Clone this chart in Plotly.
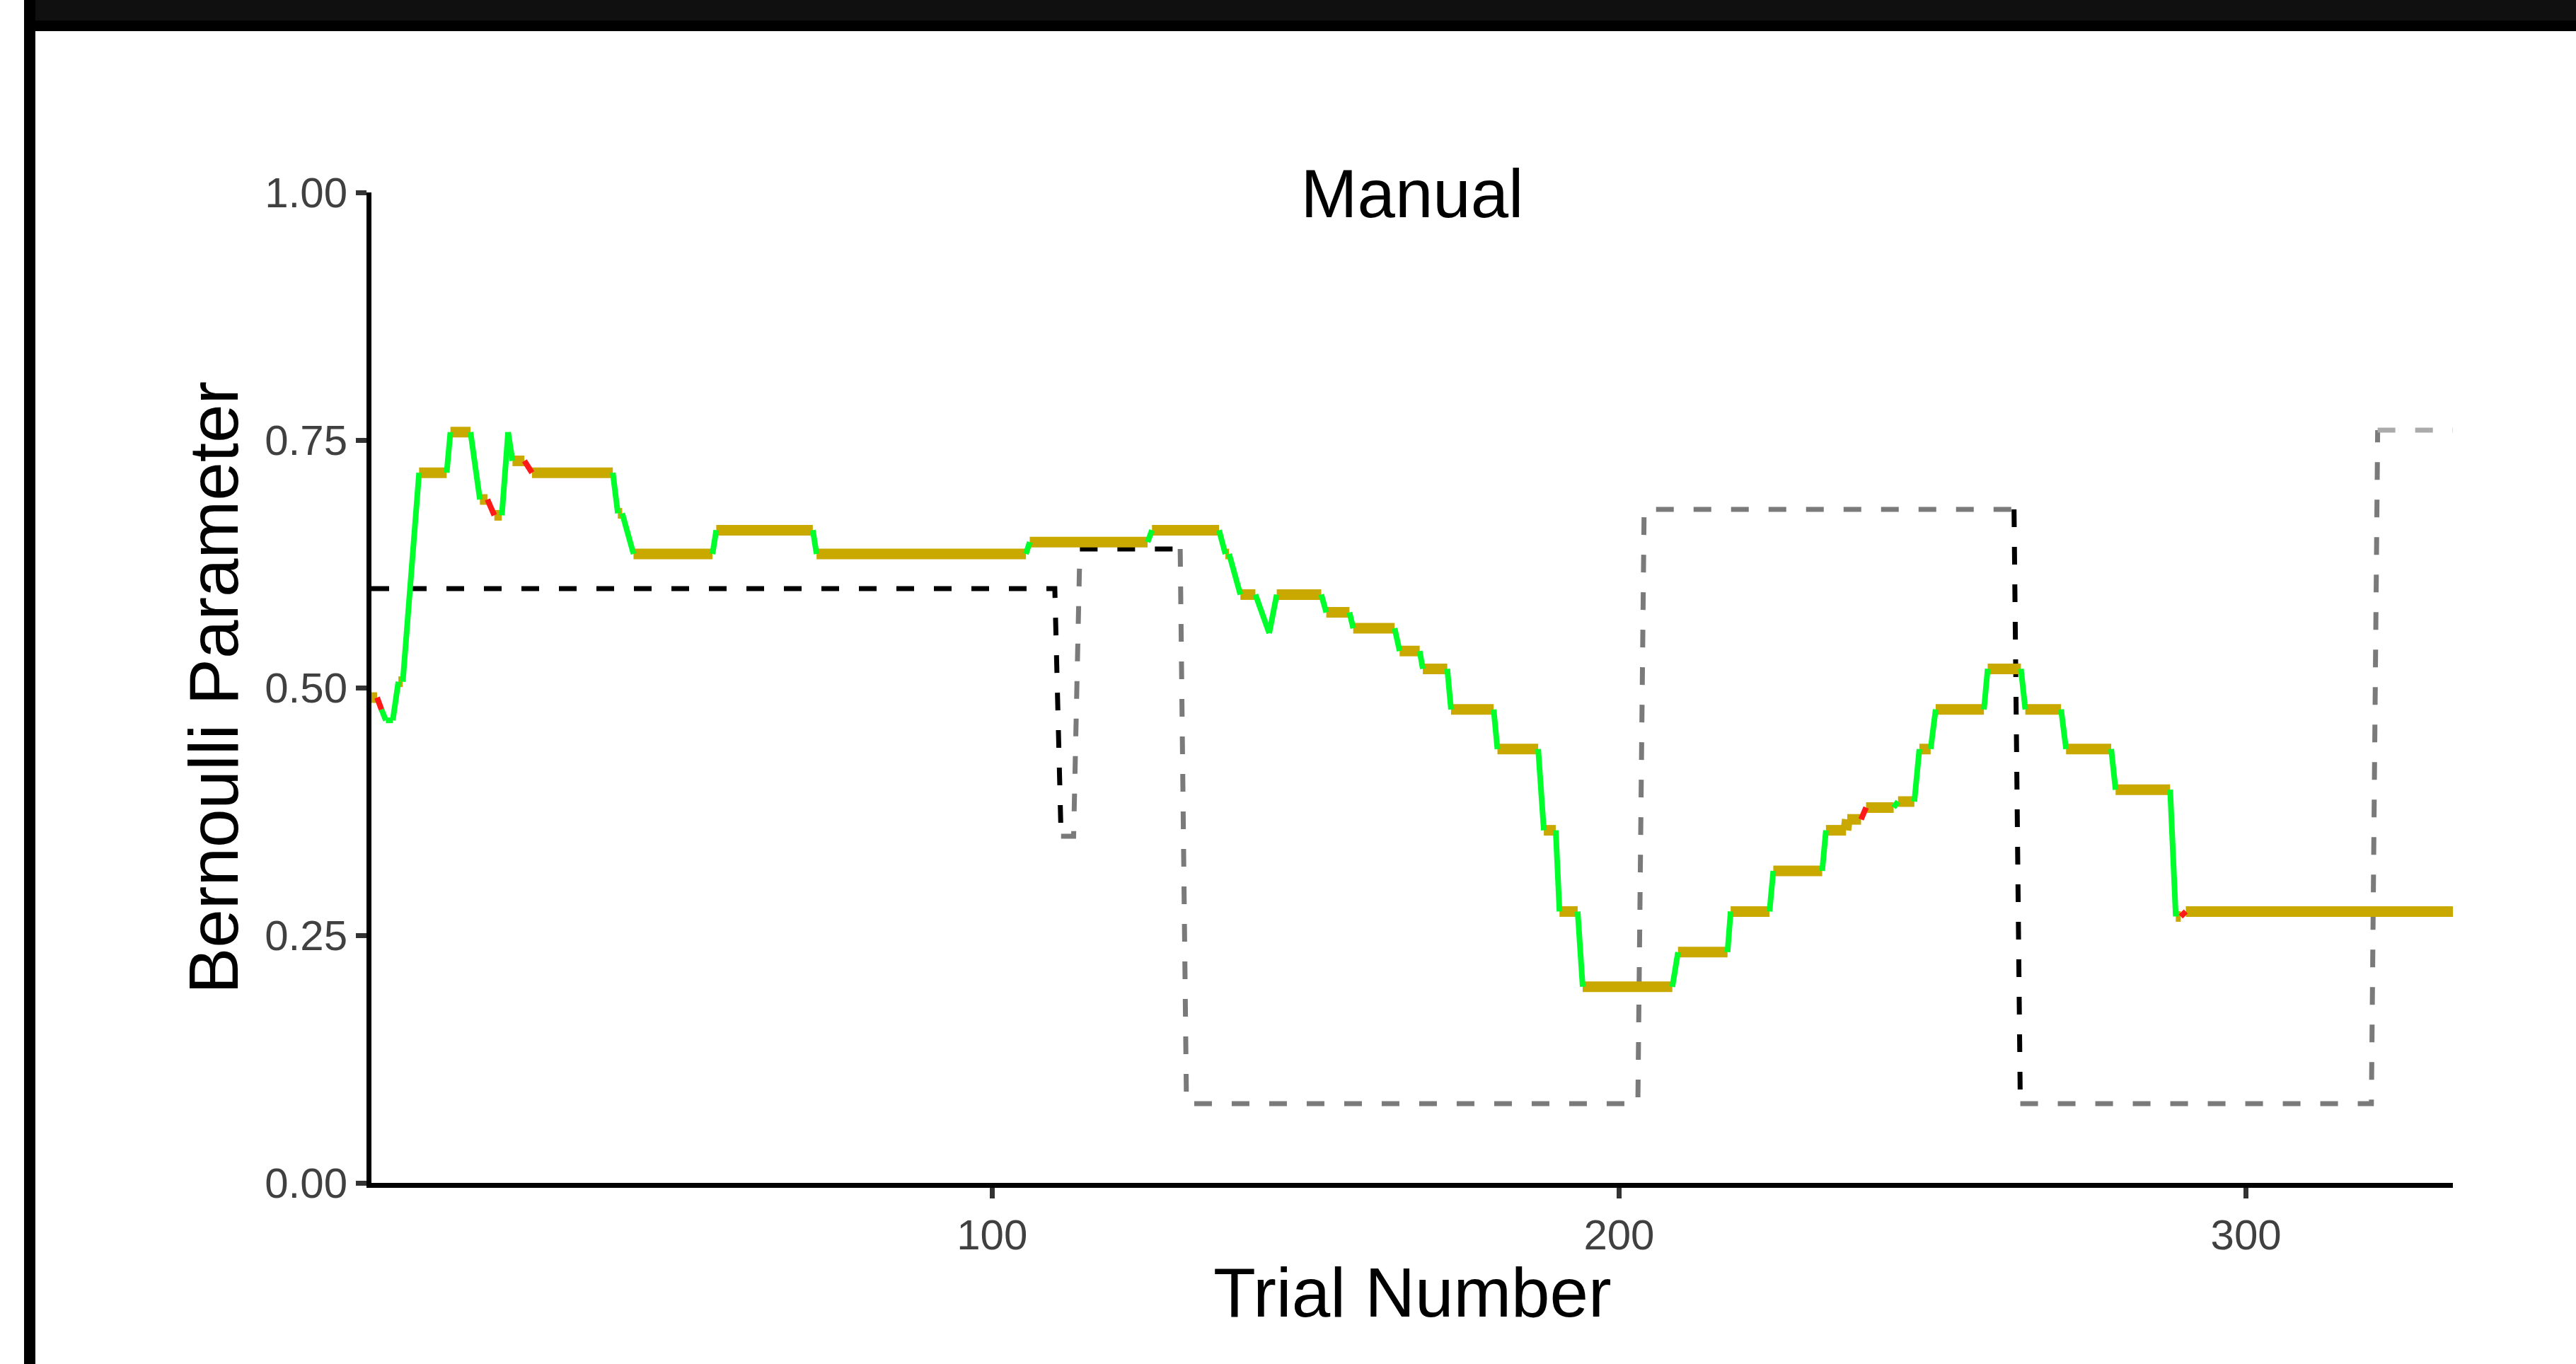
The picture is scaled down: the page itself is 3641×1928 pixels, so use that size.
import plotly.graph_objects as go

# ---------------- data ----------------
# estimated Bernoulli parameter (key points)
est_trial = [1, 1.9, 2.6, 3.3, 4.4, 5.3, 6.0, 8.6, 13.0, 13.6, 16.8, 18.3, 19.5, 20.6,
             21.8, 22.8, 23.5, 25.4, 26.6, 39.5, 40.3, 41.0, 42.8, 55.4, 56.0, 71.4,
             72.0, 105.4, 106.0, 124.8, 125.5, 136.2, 137.2, 137.8, 139.6, 142.0,
             144.2, 145.4, 152.5, 153.3, 157.0, 157.6, 164.2, 165.0, 168.2, 168.7,
             172.6, 173.2, 180.0, 180.6, 187.1, 188.0, 189.9, 190.5, 193.4, 194.2,
             208.5, 209.4, 217.3, 217.8, 224.0, 224.6, 232.4, 233.0, 236.2, 236.4,
             238.6, 239.4, 243.8, 244.5, 247.1, 247.9, 249.7, 250.5, 258.2, 258.8,
             264.1, 264.8, 270.5, 271.3, 278.5, 279.2, 287.9, 288.8, 289.6, 290.4, 333]
est_value = [0.490, 0.490, 0.478, 0.467, 0.467, 0.506, 0.506, 0.717, 0.717, 0.758, 0.758,
             0.690, 0.690, 0.674, 0.674, 0.758, 0.729, 0.729, 0.717, 0.717, 0.676, 0.676,
             0.635, 0.635, 0.659, 0.659, 0.635, 0.635, 0.647, 0.647, 0.659, 0.659, 0.635,
             0.635, 0.594, 0.594, 0.555, 0.594, 0.594, 0.576, 0.576, 0.560, 0.560, 0.537,
             0.537, 0.519, 0.519, 0.478, 0.478, 0.438, 0.438, 0.356, 0.356, 0.274, 0.274,
             0.198, 0.198, 0.233, 0.233, 0.274, 0.274, 0.315, 0.315, 0.356, 0.356, 0.367,
             0.367, 0.379, 0.379, 0.385, 0.385, 0.438, 0.438, 0.478, 0.478, 0.519, 0.519,
             0.478, 0.478, 0.438, 0.438, 0.397, 0.397, 0.269, 0.269, 0.274, 0.274]
# state of each segment (segment i goes from point i to point i+1)
est_state = ["hold", "down", "move", "move", "move", "hold", "move", "hold", "move", "hold",
             "move", "hold", "down", "hold", "move", "move", "hold", "down", "hold", "move",
             "hold", "move", "hold", "move", "hold", "move", "hold", "move", "hold", "move",
             "hold", "move", "hold", "move", "hold", "move", "move", "hold", "move", "hold",
             "move", "hold", "move", "hold", "move", "hold", "move", "hold", "move", "hold",
             "move", "hold", "move", "hold", "move", "hold", "move", "hold", "move", "hold",
             "move", "hold", "move", "hold", "hold", "hold", "down", "hold", "move", "hold",
             "move", "hold", "move", "hold", "move", "hold", "move", "hold", "move", "hold",
             "move", "hold", "move", "hold", "down", "hold"]

# true parameter (step function)
true_start = [1, 111, 114, 131, 204, 264, 321]
true_value = [0.60, 0.35, 0.64, 0.08, 0.68, 0.08, 0.76]
true_group = ["dark", "mid", "dark", "mid", "mid", "mid", "light"]   # level colour
jump_group = [None, "dark", "mid", "mid", "mid", "dark", "mid"]      # colour of the jump into level
last_trial = 333

x_ticks = [100, 200, 300]
y_ticks = [0.0, 0.25, 0.50, 0.75, 1.00]
y_tick_text = ["0.00", "0.25", "0.50", "0.75", "1.00"]

# ---------------- styles ----------------
W, H = 3641, 1928
ML, MR, MT, MB = 525, 174, 272, 256
state_style = {"hold": ("#C9A900", 15), "move": ("#00FF2B", 8), "down": ("#FF1A1A", 8)}
true_colors = {"dark": "#000000", "mid": "#7a7a7a", "light": "#ababab"}
FONT = "Liberation Sans, Arial, sans-serif"

fig = go.Figure()

# true parameter, per trial
trials = list(range(1, last_trial + 1))
vals, seg_groups = [], []
for t in trials:
    k = max(i for i, s in enumerate(true_start) if s <= t)
    vals.append(true_value[k])
for i in range(len(trials) - 1):
    t_next = trials[i + 1]
    if t_next in true_start and true_start.index(t_next) > 0:
        seg_groups.append(jump_group[true_start.index(t_next)])
    else:
        k = max(j for j, s in enumerate(true_start) if s <= trials[i])
        seg_groups.append(true_group[k])

# group consecutive segments of same colour into polylines
runs = []
cur = None
for i in range(len(trials) - 1):
    g = seg_groups[i]
    if cur is None or cur[0] != g:
        cur = [g, [trials[i]], [vals[i]]]
        runs.append(cur)
    cur[1].append(trials[i + 1])
    cur[2].append(vals[i + 1])
for g, xs, ys in runs:
    fig.add_trace(go.Scatter(x=xs, y=ys, mode="lines", hoverinfo="skip", showlegend=False,
                             line=dict(color=true_colors[g], width=7, dash="25px,28px")))

# estimate, per state
for st in ["hold", "move", "down"]:
    xs, ys = [], []
    for i, s in enumerate(est_state):
        if s == st:
            xs += [est_trial[i], est_trial[i + 1], None]
            ys += [est_value[i], est_value[i + 1], None]
    col, wd = state_style[st]
    fig.add_trace(go.Scatter(x=xs, y=ys, mode="lines", hoverinfo="skip", showlegend=False,
                             line=dict(color=col, width=wd)))

pw, ph = W - ML - MR, H - MT - MB


def px_x(p):
    return (p - ML) / pw


def px_y(p):
    return (H - MB - p) / ph


shapes = [
    dict(type="rect", xref="paper", yref="paper", x0=px_x(34), x1=px_x(W), y0=px_y(0), y1=px_y(29),
         fillcolor="#101010", line=dict(width=0), layer="above"),
    dict(type="rect", xref="paper", yref="paper", x0=px_x(34), x1=px_x(W), y0=px_y(29), y1=px_y(44),
         fillcolor="#000000", line=dict(width=0), layer="above"),
    dict(type="rect", xref="paper", yref="paper", x0=px_x(34), x1=px_x(50), y0=px_y(0), y1=px_y(H),
         fillcolor="#000000", line=dict(width=0), layer="above"),
]

annotations = [
    dict(text="Trial Number", xref="paper", yref="paper", x=0.5, y=px_y(1827),
         xanchor="center", yanchor="middle", showarrow=False,
         font=dict(family=FONT, size=98, color="#000000")),
    dict(text="Bernoulli Parameter", xref="paper", yref="paper", x=px_x(302), y=0.5,
         xanchor="center", yanchor="middle", textangle=-90, showarrow=False,
         font=dict(family=FONT, size=98, color="#000000")),
]

fig.update_layout(
    width=W, height=H,
    margin=dict(l=ML, r=MR, t=MT, b=MB, pad=0),
    paper_bgcolor="white", plot_bgcolor="white",
    title=dict(text="Manual", x=0.5, xref="paper", xanchor="center",
               y=px_y(273), yref="paper", yanchor="middle",
               font=dict(family=FONT, size=96, color="#000000")),
    shapes=shapes, annotations=annotations,
    showlegend=False,
    xaxis=dict(range=[1, last_trial], tickvals=x_ticks, ticks="outside", ticklen=15, tickwidth=7,
               tickcolor="#333333", showline=True, linecolor="#000000", linewidth=7,
               showgrid=False, zeroline=False,
               tickfont=dict(family=FONT, size=60, color="#404040")),
    yaxis=dict(range=[0, 1], tickvals=y_ticks, ticktext=y_tick_text, ticks="outside", ticklen=15,
               tickwidth=7, tickcolor="#333333", showline=True, linecolor="#000000", linewidth=7,
               showgrid=False, zeroline=False,
               tickfont=dict(family=FONT, size=60, color="#404040")),
)

fig.write_html("out.html")
